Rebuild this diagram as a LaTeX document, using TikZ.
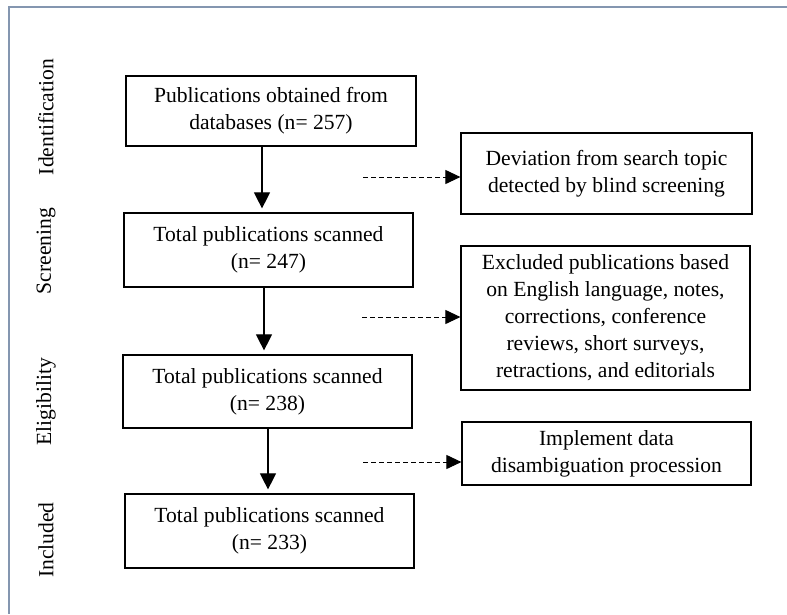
\documentclass[tikz,border=0pt]{standalone}
\usepackage{fontspec}
\setmainfont{Liberation Serif}
\usetikzlibrary{arrows.meta}
\definecolor{framegray}{HTML}{8496B0}

\begin{document}
\begin{tikzpicture}[x=1pt,y=-1pt,
  box/.style={draw,line width=1.2pt,align=center,inner sep=2pt,font=\fontsize{21.6}{27}\selectfont},
  phase/.style={rotate=90,font=\fontsize{21.6}{27}\selectfont},
  flow/.style={line width=1.1pt,-{Triangle[length=16pt,width=16pt]},shorten >=4pt},
  skip/.style={line width=1pt,dash pattern=on 5pt off 3pt,-{Triangle[length=15pt,width=14pt]}}]
\useasboundingbox (0,0) rectangle (787,614);
\draw[framegray,line width=2pt] (787,7) -- (9,7) -- (9,614);

% phases
\node[phase] (pid) at (46,117) {Identification};
\node[phase] (pscr) at (46,251) {Screening};
\node[phase] (pel) at (46,402) {Eligibility};
\node[phase] (pinc) at (46,540) {Included};

% main boxes
\node[box,minimum width=290pt,minimum height=70pt] (b1) at (271,111) {Publications obtained from\\databases (n= 257)};
\node[box,minimum width=289pt,minimum height=74pt] (b2) at (268.5,250) {Total publications scanned\\(n= 247)};
\node[box,minimum width=289pt,minimum height=73pt] (b3) at (267.5,391.5) {Total publications scanned\\(n= 238)};
\node[box,minimum width=289pt,minimum height=74pt] (b4) at (269.5,531) {Total publications scanned\\(n= 233)};

% side boxes
\node[box,minimum width=291pt,minimum height=81pt] (s1) at (606.5,173.5) {Deviation from search topic\\detected by blind screening};
\node[box,minimum width=289pt,minimum height=144pt] (s2) at (605.5,318) {Excluded publications based\\on English language, notes,\\corrections, conference\\reviews, short surveys,\\retractions, and editorials};
\node[box,minimum width=289pt,minimum height=63pt] (s3) at (606.5,453.5) {Implement data\\disambiguation procession};

\draw[flow] ([xshift=-9pt]b1.south) -- ([xshift=-9pt]b1.south |- b2.north);
\draw[flow] ([xshift=-4.5pt]b2.south) -- ([xshift=-4.5pt]b2.south |- b3.north);
\draw[flow] ([xshift=0.5pt]b3.south) -- ([xshift=0.5pt]b3.south |- b4.north);

\coordinate (d1) at (363,177);
\coordinate (d2) at (362,317);
\coordinate (d3) at (363,462);
\draw[skip] (d1) -- (d1 -| s1.west);
\draw[skip] (d2) -- (d2 -| s2.west);
\draw[skip] (d3) -- (d3 -| s3.west);
\end{tikzpicture}
\end{document}
